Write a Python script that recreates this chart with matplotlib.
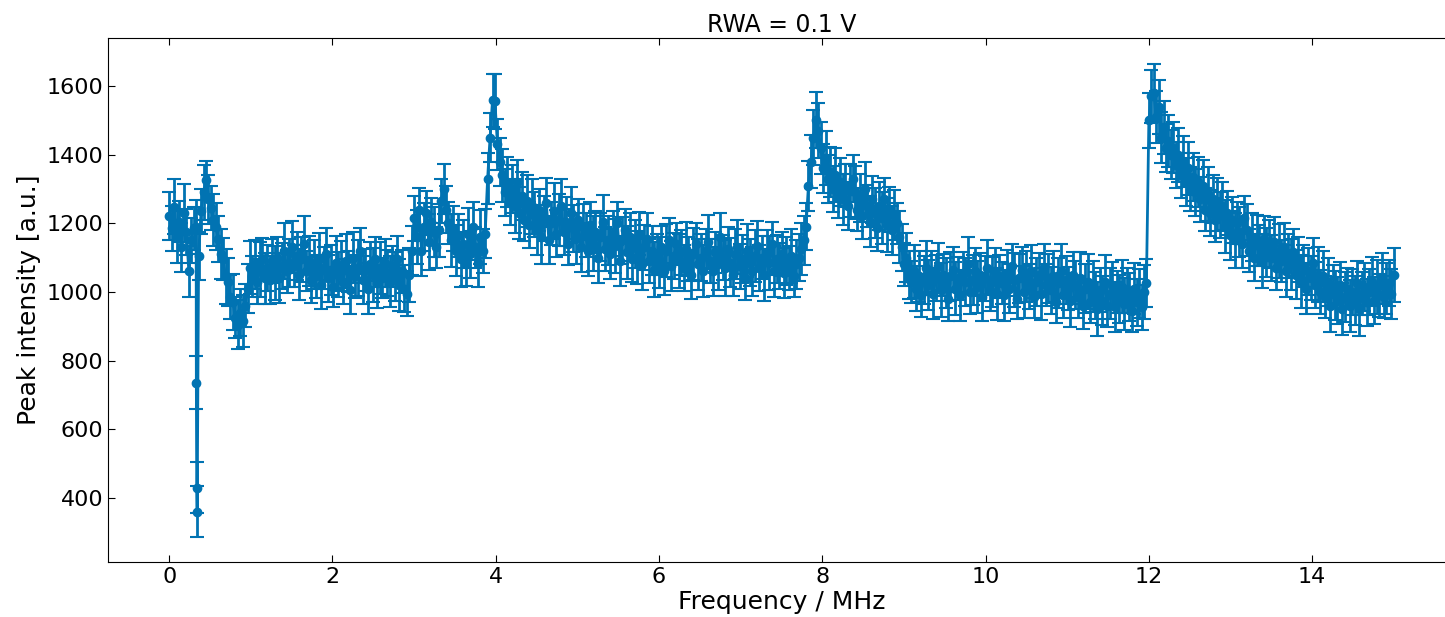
import numpy as np
import matplotlib.pyplot as plt

# sweep grid, 0.03 MHz steps, plus the three points inside the sharp dip
freqGrid = np.round(np.arange(0, 15.0001, 0.03), 3)
dipFreq = [0.332, 0.337, 0.342]
dipIntensity = [735, 430, 360]
dipError = [77, 75, 75]

intensity = [
    1222, 1185, 1248, 1160, 1205, 1130, 1230, 1175, 1060, 1150,
    1185, 1190, 1105, 1235, 1290, 1325, 1270, 1245, 1210, 1190,
    1155, 1110, 1095, 1045, 1030, 985, 970, 925, 905, 940,
    915, 960, 1010, 1070, 1045, 1080, 1030, 1065, 1095, 1040,
    1070, 1035, 1090, 1055, 1100, 1040, 1075, 1120, 1060, 1085,
    1130, 1075, 1105, 1050, 1095, 1140, 1060, 1090, 1035, 1080,
    1045, 1095, 1020, 1070, 1110, 1040, 1065, 1015, 1085, 1050,
    1075, 1030, 1090, 1060, 1005, 1100, 1045, 1070, 1120, 1035,
    1065, 1010, 1080, 1050, 1095, 1025, 1070, 1040, 1085, 1055,
    1030, 1075, 1045, 1095, 1020, 1060, 1010, 995, 1050, 1120,
    1215, 1160, 1240, 1120, 1190, 1230, 1145, 1205, 1175, 1130,
    1180, 1265, 1300, 1240, 1200, 1150, 1185, 1120, 1165, 1095,
    1140, 1080, 1170, 1110, 1190, 1130, 1085, 1160, 1120, 1170,
    1330, 1450, 1558, 1555, 1430, 1380, 1340, 1290, 1320, 1260,
    1300, 1250, 1320, 1230, 1280, 1210, 1265, 1195, 1250, 1225,
    1180, 1240, 1160, 1215, 1260, 1150, 1200, 1235, 1170, 1210,
    1250, 1175, 1205, 1140, 1230, 1185, 1155, 1210, 1130, 1190,
    1165, 1120, 1195, 1140, 1175, 1100, 1160, 1205, 1125, 1150,
    1110, 1170, 1135, 1200, 1090, 1150, 1180, 1115, 1160, 1095,
    1140, 1100, 1170, 1080, 1130, 1155, 1090, 1120, 1065, 1110,
    1085, 1130, 1060, 1120, 1150, 1075, 1105, 1140, 1090, 1115,
    1070, 1125, 1095, 1050, 1110, 1140, 1080, 1100, 1060, 1120,
    1145, 1090, 1060, 1115, 1080, 1160, 1100, 1070, 1125, 1085,
    1050, 1110, 1130, 1075, 1095, 1040, 1120, 1085, 1060, 1105,
    1135, 1070, 1100, 1050, 1115, 1085, 1140, 1060, 1095, 1075,
    1110, 1055, 1090, 1070, 1105, 1045, 1080, 1100, 1125, 1150,
    1190, 1310, 1380, 1450, 1500, 1470, 1420, 1360, 1390, 1330,
    1350, 1300, 1340, 1280, 1320, 1270, 1310, 1250, 1295, 1330,
    1290, 1240, 1275, 1220, 1300, 1250, 1205, 1270, 1230, 1185,
    1250, 1215, 1270, 1195, 1240, 1180, 1225, 1200, 1160, 1130,
    1080, 1100, 1050, 1030, 1060, 1010, 1045, 990, 1035, 1070,
    1020, 1060, 995, 1040, 1075, 1005, 1050, 1025, 980, 1045,
    1065, 1010, 1040, 990, 1055, 1030, 1080, 1000, 1035, 1060,
    1015, 1050, 985, 1040, 1070, 1005, 1030, 1060, 995, 1045,
    1025, 990, 1055, 1010, 1075, 1035, 980, 1040, 1065, 1000,
    1045, 1015, 1060, 985, 1030, 1050, 995, 1070, 1020, 1040,
    1005, 1045, 970, 1025, 1060, 990, 1035, 1010, 975, 1050,
    1020, 985, 1040, 960, 1010, 1030, 970, 1015, 990, 950,
    1005, 975, 1030, 960, 995, 1020, 955, 1000, 980, 1015,
    965, 1005, 985, 945, 1010, 970, 995, 955, 1000, 1025,
    1500, 1570, 1580, 1510, 1540, 1450, 1480, 1420, 1440, 1400,
    1420, 1370, 1400, 1340, 1380, 1320, 1360, 1300, 1335, 1290,
    1320, 1270, 1310, 1240, 1285, 1230, 1270, 1210, 1255, 1225,
    1250, 1190, 1230, 1165, 1210, 1150, 1200, 1175, 1140, 1215,
    1180, 1120, 1160, 1100, 1150, 1135, 1090, 1155, 1115, 1140,
    1100, 1145, 1070, 1120, 1090, 1130, 1060, 1105, 1080, 1115,
    1050, 1095, 1030, 1075, 1010, 1060, 1040, 1085, 1020, 1050,
    1000, 1045, 985, 1030, 960, 1015, 990, 975, 1020, 950,
    985, 1010, 960, 1000, 975, 1025, 950, 995, 1015, 970,
    1000, 1030, 975, 1015, 990, 1040, 985, 1010, 1025, 995,
    1050,
]

intensityError = [
    70, 65, 80, 75, 60, 72, 85, 68, 74, 66,
    62, 78, 70, 66, 80, 58, 72, 64, 76, 69,
    67, 73, 61, 79, 70, 65, 82, 60, 71, 68,
    75, 63, 70, 77, 59, 72, 66, 80, 62, 74,
    68, 71, 64, 78, 60, 73, 67, 81, 63, 70,
    76, 62, 69, 74, 65, 80, 58, 72, 67, 71,
    64, 77, 70, 61, 75, 68, 73, 59, 79, 66,
    72, 65, 78, 60, 70, 74, 63, 81, 67, 69,
    61, 73, 66, 79, 64, 71, 75, 58, 70, 68,
    74, 60, 72, 67, 77, 63, 69, 65, 78, 71,
    66, 79, 62, 75, 70, 64, 81, 68, 73, 60,
    77, 65, 72, 69, 61, 78, 66, 74, 63, 80,
    70, 62, 76, 68, 73, 59, 71, 79, 64, 72,
    75, 72, 78, 80, 74, 70, 77, 68, 73, 66,
    71, 79, 64, 76, 69, 62, 75, 67, 80, 65,
    73, 61, 78, 66, 72, 70, 63, 81, 68, 75,
    79, 67, 71, 62, 76, 69, 74, 60, 72, 66,
    64, 75, 68, 80, 61, 73, 70, 77, 65, 71,
    72, 66, 79, 63, 74, 68, 61, 76, 70, 67,
    69, 78, 62, 73, 66, 75, 64, 71, 80, 60,
    74, 63, 70, 77, 65, 72, 68, 61, 79, 66,
    67, 80, 64, 71, 75, 62, 73, 69, 76, 63,
    78, 65, 72, 60, 74, 70, 66, 81, 63, 71,
    62, 73, 79, 66, 70, 64, 77, 68, 72, 75,
    71, 68, 62, 76, 65, 79, 63, 74, 70, 67,
    65, 74, 70, 63, 78, 61, 72, 69, 75, 71,
    68, 73, 76, 79, 82, 80, 76, 72, 78, 70,
    73, 66, 79, 64, 71, 75, 62, 70, 77, 68,
    76, 63, 70, 67, 80, 61, 74, 69, 72, 65,
    69, 75, 62, 78, 66, 71, 73, 60, 76, 68,
    64, 72, 70, 61, 77, 66, 74, 63, 70, 79,
    72, 60, 75, 67, 69, 78, 62, 73, 65, 71,
    66, 77, 63, 74, 61, 70, 79, 64, 72, 68,
    75, 63, 71, 66, 80, 62, 73, 69, 76, 64,
    61, 74, 68, 72, 65, 79, 60, 71, 67, 75,
    73, 66, 78, 62, 70, 64, 76, 69, 61, 72,
    68, 75, 60, 73, 79, 65, 71, 63, 77, 66,
    70, 62, 76, 67, 72, 80, 61, 74, 68, 78,
    64, 71, 79, 63, 75, 66, 73, 60, 70, 77,
    76, 65, 70, 62, 74, 68, 72, 66, 79, 70,
    80, 78, 85, 76, 79, 73, 77, 70, 75, 72,
    74, 68, 79, 65, 73, 70, 77, 63, 71, 69,
    72, 66, 75, 62, 78, 68, 70, 64, 76, 67,
    69, 77, 63, 72, 66, 79, 61, 73, 70, 65,
    75, 62, 71, 68, 74, 60, 78, 66, 72, 69,
    67, 73, 65, 79, 61, 70, 76, 63, 74, 68,
    71, 66, 78, 62, 75, 69, 64, 72, 67, 80,
    65, 74, 61, 70, 77, 63, 72, 68, 66, 75,
    73, 60, 76, 67, 71, 64, 79, 62, 70, 68,
    66, 72, 69, 78, 63, 74, 61, 75, 67, 73,
    78,
]


def mergeDip(_freq, _vals, _errs):
    freq = np.concatenate([_freq, dipFreq])
    vals = np.concatenate([_vals, dipIntensity])
    errs = np.concatenate([_errs, dipError])
    order = np.argsort(freq, kind='stable')
    return freq[order], vals[order], errs[order]


if __name__ == "__main__":
    freq, vals, errs = mergeDip(freqGrid, np.array(intensity, float), np.array(intensityError, float))

    fig = plt.figure(figsize=(14.45, 6.17), dpi=100)
    ax = fig.add_axes([108 / 1445, 55 / 617, 1347 / 1445, 524 / 617])

    ax.errorbar(freq, vals, yerr=errs, fmt='-o', color='#0173b2', ms=6, lw=2,
                elinewidth=2, capsize=5, capthick=1.5)

    ax.set_xlim(-0.75, 15.75)
    ax.set_ylim(213, 1740)
    ax.set_xticks(np.arange(0, 15, 2))
    ax.set_yticks(np.arange(400, 1601, 200))
    ax.tick_params(direction='in', top=True, right=True, length=5, labelsize=16)

    ax.set_xlabel('Frequency / MHz', fontsize=18, labelpad=2)
    ax.set_ylabel('Peak intensity [a.u.]', fontsize=18)
    ax.set_title('RWA = 0.1 V', fontsize=17, pad=4)

    fig.savefig('out.png', dpi=100)
